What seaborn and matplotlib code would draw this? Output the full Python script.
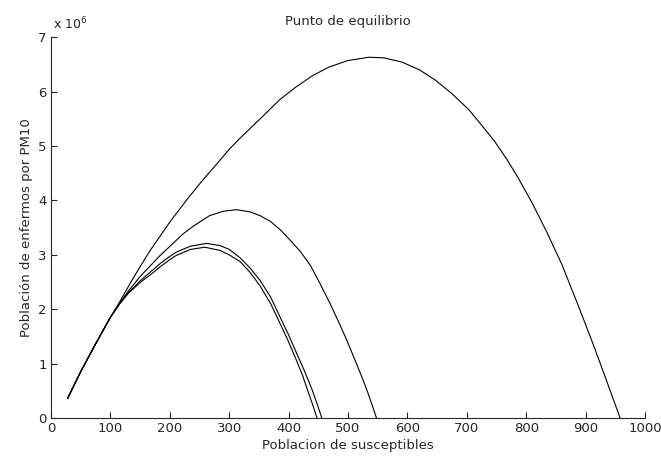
import pandas as pd
import numpy as np
import matplotlib
matplotlib.use("Agg")
import matplotlib.pyplot as plt
import seaborn as sns

# curves (x = susceptibles, y = enfermos in millions)
x_a = [28, 50, 75, 100, 115, 133, 150, 167, 200, 230, 250, 268, 280, 301, 318, 335, 357, 385, 412, 440, 468, 500, 535, 560, 591, 620, 647, 675,
       703, 725, 747, 767, 786, 810, 834, 860, 887, 910, 925, 940, 958]
y_a = [0.36, 0.85, 1.36, 1.85, 2.12, 2.47, 2.78, 3.08, 3.60, 4.03, 4.30, 4.53, 4.68, 4.95, 5.14, 5.32, 5.55, 5.85, 6.08, 6.29, 6.45, 6.57, 6.63, 6.62, 6.54, 6.40, 6.21, 5.96,
       5.67, 5.38, 5.08, 4.76, 4.42, 3.95, 3.43, 2.82, 2.08, 1.43, 0.99, 0.54, 0.0]

x_b = [28, 50, 75, 100, 115, 130, 150, 183, 222, 240, 267, 290, 312, 335, 352, 370, 386, 400, 420, 437, 453, 470, 487, 498, 515, 525, 532, 540, 548]
y_b = [0.36, 0.85, 1.36, 1.85, 2.10, 2.33, 2.60, 2.98, 3.38, 3.53, 3.72, 3.80, 3.83, 3.79, 3.72, 3.61, 3.46, 3.30, 3.06, 2.80, 2.47, 2.10, 1.70, 1.43, 0.98, 0.71, 0.51, 0.26, 0.0]

x_c = [28, 50, 75, 100, 115, 130, 150, 167, 185, 200, 211, 235, 262, 285, 300, 318, 335, 352, 370, 386, 400, 414, 427, 440, 448, 456]
y_c = [0.36, 0.85, 1.36, 1.85, 2.09, 2.30, 2.52, 2.68, 2.85, 2.97, 3.05, 3.16, 3.21, 3.17, 3.10, 2.95, 2.76, 2.53, 2.22, 1.85, 1.53, 1.18, 0.86, 0.51, 0.26, 0.0]

x_d = [28, 50, 75, 100, 115, 130, 150, 167, 185, 200, 211, 235, 259, 285, 300, 318, 335, 352, 370, 386, 398, 411, 423, 434, 441, 448]
y_d = [0.36, 0.85, 1.36, 1.85, 2.09, 2.29, 2.49, 2.63, 2.79, 2.91, 2.99, 3.10, 3.14, 3.08, 3.00, 2.88, 2.68, 2.43, 2.10, 1.73, 1.45, 1.12, 0.80, 0.45, 0.23, 0.0]

x_ticks = [0, 100, 200, 300, 400, 500, 600, 700, 800, 900, 1000]
y_ticks = [0, 1, 2, 3, 4, 5, 6, 7]

sns.set_style("ticks")
plt.rcParams['font.family'] = ['DejaVu Sans']

fig = plt.figure(figsize=(6.61, 4.58), dpi=100)
ax = fig.add_axes([0.077, 0.087, 0.899, 0.832])

for xs, ys in [(x_a, y_a), (x_b, y_b), (x_c, y_c), (x_d, y_d)]:
    sns.lineplot(x=xs, y=ys, color='black', linewidth=0.8, sort=False,
                 estimator=None, ax=ax)

ax.set_xlim(0, 1000)
ax.set_ylim(0, 7)
ax.set_xticks(x_ticks)
ax.set_yticks(y_ticks)
ax.tick_params(direction='in', length=4, width=0.8, labelsize=9.5, pad=3)
sns.despine(ax=ax)
for s in ['left', 'bottom']:
    ax.spines[s].set_linewidth(0.8)

ax.set_title('Punto de equilibrio', fontsize=9.5, pad=9)
ax.set_xlabel('Poblacion de susceptibles', fontsize=9.5, labelpad=3)
ax.set_ylabel('Población de enfermos por PM10', fontsize=9.5, labelpad=4)
ax.text(0.004, 1.012, r'x 10$^{6}$', transform=ax.transAxes, fontsize=9,
        ha='left', va='bottom')

fig.savefig('out.png', dpi=100)
